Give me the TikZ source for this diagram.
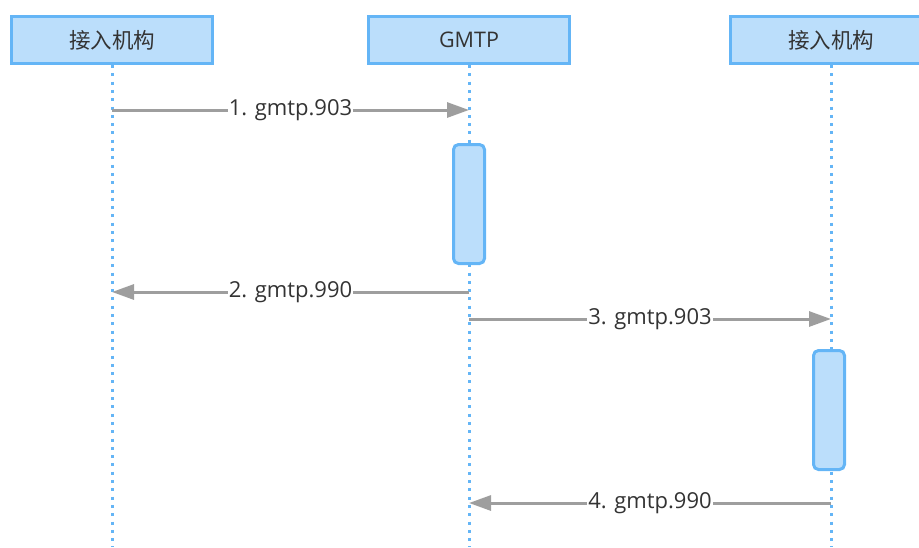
\documentclass[tikz,border=0pt]{standalone}
\usepackage{fontspec}
\setmainfont{Open Sans}
\newfontfamily\cjk{Noto Sans CJK SC}
\usepackage{tikz}
\usetikzlibrary{positioning, calc, arrows.meta}
\definecolor{boxfill}{HTML}{BBDEFB}
\definecolor{boxline}{HTML}{64B5F6}
\definecolor{msgline}{HTML}{9E9E9E}
\definecolor{txtcol}{HTML}{333333}
\tikzstyle{Msg} = [
%Message arrow style:
line width = 3pt, draw = msgline,
-{Triangle[length = 22pt, width = 15pt]}
]

\begin{document}
\begin{tikzpicture}[x = 1pt, y = -1pt,
			actor/.style = {rectangle, draw = boxline, fill = boxfill, line width = 3pt, minimum width = 201pt, minimum height = 47pt, text = txtcol, font = \fontsize{21.5}{26}\selectfont},
			lifeline/.style = {draw = boxline, line width = 3pt, dash pattern = on 3pt off 5.3pt},
			active/.style = {rectangle, rounded corners = 5pt, draw = boxline, fill = boxfill, line width = 3pt, minimum width = 31pt, minimum height = 119pt},
			msglabel/.style = {fill = white, text = txtcol, inner sep = 1pt, font = \fontsize{22}{26}\selectfont},
		]

		\useasboundingbox (0,0) rectangle (919,547);

		\node[actor](L) at (112,40){\cjk 接入机构};
		\node[actor](G) at (469,40){GMTP};
		\node[actor](R) at (831,40){\cjk 接入机构};

		\coordinate(Lend) at (112,547);
		\coordinate(Gend) at (469,547);
		\coordinate(Rend) at (831,547);

		\draw[lifeline](L.south)--(Lend);
		\draw[lifeline](G.south)--(Gend);
		\draw[lifeline](R.south)--(Rend);

		\node[active](actG) at (469,204){};
		\node[active](actR) at (829,410){};

		\coordinate(m1s) at (L.south |- 0,110);
		\coordinate(m1e) at (G.south |- 0,110);
		\coordinate(m2s) at (G.south |- 0,292);
		\coordinate(m2e) at (L.south |- 0,292);
		\coordinate(m3s) at (G.south |- 0,319);
		\coordinate(m3e) at (R.south |- 0,319);
		\coordinate(m4s) at (R.south |- 0,503);
		\coordinate(m4e) at (G.south |- 0,503);

		\draw[Msg](m1s)--node[msglabel, midway] {1. gmtp.903}(m1e);
		\draw[Msg](m2s)--node[msglabel, midway] {2. gmtp.990}(m2e);
		\draw[Msg](m3s)--node[msglabel, midway] {3. gmtp.903}(m3e);
		\draw[Msg](m4s)--node[msglabel, midway] {4. gmtp.990}(m4e);

	\end{tikzpicture}
\end{document}
